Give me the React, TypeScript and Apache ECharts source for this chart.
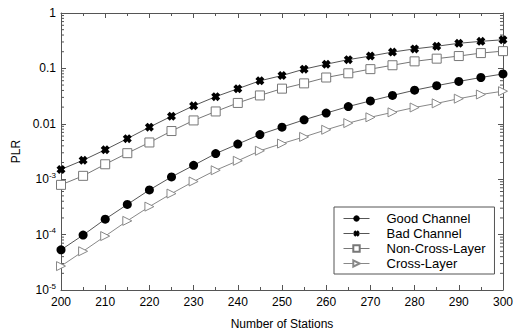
import React, { useEffect, useRef } from "react";
import * as echarts from "echarts";

const stations = [200, 205, 210, 215, 220, 225, 230, 235, 240, 245, 250, 255, 260, 265, 270, 275, 280, 285, 290, 295, 300];
const goodChannel = [5.3e-5, 9.8e-5, 1.9e-4, 3.5e-4, 6.4e-4, 1.1e-3, 1.78e-3, 2.9e-3, 4.3e-3, 6.4e-3, 8.7e-3, 0.0118, 0.0156, 0.0205, 0.0259, 0.0325, 0.0404, 0.0488, 0.0582, 0.0685, 0.0794];
const badChannel = [1.5e-3, 2.2e-3, 3.4e-3, 5.4e-3, 8.7e-3, 0.0137, 0.0211, 0.0309, 0.043, 0.0597, 0.0743, 0.097, 0.119, 0.144, 0.167, 0.197, 0.225, 0.251, 0.284, 0.308, 0.329];
const nonCrossLayer = [7.9e-4, 1.15e-3, 1.86e-3, 2.95e-3, 4.6e-3, 7.4e-3, 0.0115, 0.0167, 0.0238, 0.0325, 0.0431, 0.0537, 0.0685, 0.0816, 0.097, 0.114, 0.134, 0.15, 0.167, 0.189, 0.205];
const crossLayer = [2.7e-5, 5.0e-5, 9.4e-5, 1.77e-4, 3.2e-4, 5.5e-4, 9.1e-4, 1.45e-3, 2.15e-3, 3.26e-3, 4.4e-3, 5.8e-3, 7.8e-3, 0.0103, 0.0131, 0.0161, 0.0197, 0.0234, 0.0284, 0.0338, 0.0388];
const seriesNames = ["Good Channel", "Bad Channel", "Non-Cross-Layer", "Cross-Layer"];
const yDecades = [-5, -4, -3, -2, -1];
const minorMultipliers = [2, 3, 4, 5, 6, 7, 8, 9];

const X_PATH =
  "path://M3,0 L5,2 L7,0 L10,3 L8,5 L10,7 L7,10 L5,8 L3,10 L0,7 L2,5 L0,3 Z";
const TRI_PATH = "path://M0,0 L10,5 L0,10 Z";

const AXIS_COLOR = "#555";
const FONT = "Arial, 'Liberation Sans', sans-serif";

function zip(xs: number[], ys: number[]) {
  return xs.map((x, i) => [x, ys[i]]);
}

function yLabel(v: number) {
  const e = Math.round(Math.log10(v));
  if (e === 0) return "1";
  if (e === -1) return "0.1";
  if (e === -2) return "0.01";
  return "{b|10}{s|" + e + "}";
}

export default function App() {
  const ref = useRef<HTMLDivElement>(null);
  useEffect(() => {
    if (!ref.current) return;
    const chart = echarts.init(ref.current, undefined, { renderer: "svg" });
    const tickY = {
      show: true,
      inside: true,
      length: 5,
      lineStyle: { color: AXIS_COLOR },
    };
    const option: any = {
      animation: false,
      backgroundColor: "#fff",
      textStyle: { fontFamily: FONT },
      grid: { left: 61, right: 11, top: 13, bottom: 38 },
      legend: {
        data: seriesNames,
        orient: "vertical",
        left: 334,
        top: 207,
        padding: [5, 9, 4, 9],
        itemWidth: 26,
        itemHeight: 8,
        itemGap: 2,
        borderColor: "#555",
        borderWidth: 1,
        backgroundColor: "#fff",
        lineStyle: { width: 1 },
        textStyle: { fontSize: 13, color: "#000", fontFamily: FONT, padding: [0, 0, 0, 12] },
      },
      xAxis: [
        {
          type: "value",
          min: 200,
          max: 300,
          interval: 10,
          name: "Number of Stations",
          nameLocation: "middle",
          nameGap: 28,
          nameTextStyle: { fontSize: 12, color: "#000", fontFamily: FONT },
          axisLine: { show: true, lineStyle: { color: AXIS_COLOR } },
          axisTick: { show: true, inside: true, length: 5, lineStyle: { color: AXIS_COLOR } },
          minorTick: { show: true, splitNumber: 2, length: 3, lineStyle: { color: AXIS_COLOR } },
          axisLabel: { fontSize: 12, color: "#000", margin: 6, fontFamily: FONT },
          splitLine: { show: false },
        },
        {
          type: "value",
          position: "top",
          min: 200,
          max: 300,
          interval: 10,
          axisLine: { show: true, onZero: false, lineStyle: { color: AXIS_COLOR } },
          axisTick: { show: true, inside: true, length: 5, lineStyle: { color: AXIS_COLOR } },
          minorTick: { show: true, splitNumber: 2, length: 3, lineStyle: { color: AXIS_COLOR } },
          axisLabel: { show: false },
          splitLine: { show: false },
        },
      ],
      yAxis: [
        {
          type: "log",
          logBase: 10,
          min: 1e-5,
          max: 1,
          name: "PLR",
          nameLocation: "middle",
          nameGap: 34,
          nameRotate: 90,
          nameTextStyle: { fontSize: 12, color: "#000", fontFamily: FONT },
          axisLine: { show: true, lineStyle: { color: AXIS_COLOR } },
          axisTick: tickY,
          axisLabel: {
            fontSize: 12,
            color: "#000",
            margin: 5,
            fontFamily: FONT,
            formatter: yLabel,
            rich: {
              b: { fontSize: 12, lineHeight: 16, color: "#000", fontFamily: FONT, verticalAlign: "middle" },
              s: { fontSize: 8, lineHeight: 8, color: "#000", fontFamily: FONT, verticalAlign: "top" },
            },
          },
          splitLine: { show: false },
        },
        {
          type: "log",
          logBase: 10,
          min: 1e-5,
          max: 1,
          position: "right",
          axisLine: { show: true, onZero: false, lineStyle: { color: AXIS_COLOR } },
          axisTick: tickY,
          axisLabel: { show: false },
          splitLine: { show: false },
        },
      ],
      series: [
        {
          type: "custom",
          name: "minorY",
          silent: true,
          xAxisIndex: 0,
          yAxisIndex: 0,
          data: [[200, 1]],
          clip: false,
          renderItem: (params: any, api: any) => {
            const cs = params.coordSys;
            const children: any[] = [];
            yDecades.forEach((d) => {
              minorMultipliers.forEach((k) => {
                const v = k * Math.pow(10, d);
                const y = api.coord([200, v])[1];
                children.push({
                  type: "line",
                  shape: { x1: cs.x, y1: y, x2: cs.x + 3, y2: y },
                  style: { stroke: AXIS_COLOR, lineWidth: 1 },
                });
                children.push({
                  type: "line",
                  shape: { x1: cs.x + cs.width - 3, y1: y, x2: cs.x + cs.width, y2: y },
                  style: { stroke: AXIS_COLOR, lineWidth: 1 },
                });
              });
            });
            return { type: "group", children };
          },
          z: 1,
        },
        {
          name: "Good Channel",
          type: "line",
          data: zip(stations, goodChannel),
          symbol: "circle",
          symbolSize: 9,
          lineStyle: { color: "#555", width: 1 },
          itemStyle: { color: "#000", borderColor: "#000", borderWidth: 0 },
          z: 3,
        },
        {
          name: "Bad Channel",
          type: "line",
          data: zip(stations, badChannel),
          symbol: X_PATH,
          symbolSize: 9,
          lineStyle: { color: "#555", width: 1 },
          itemStyle: { color: "#000", borderColor: "#000", borderWidth: 0 },
          z: 3,
        },
        {
          name: "Non-Cross-Layer",
          type: "line",
          data: zip(stations, nonCrossLayer),
          symbol: "rect",
          symbolSize: 9,
          lineStyle: { color: "#777", width: 1 },
          itemStyle: { color: "#fff", borderColor: "#777", borderWidth: 1 },
          z: 3,
        },
        {
          name: "Cross-Layer",
          type: "line",
          data: zip(stations, crossLayer),
          symbol: TRI_PATH,
          symbolSize: [9, 9],
          lineStyle: { color: "#888", width: 1 },
          itemStyle: { color: "#fff", borderColor: "#888", borderWidth: 1 },
          z: 3,
        },
      ],
    };
    chart.setOption(option);
    return () => chart.dispose();
  }, []);
  return <div ref={ref} style={{ width: 516, height: 335, position: "absolute", left: 0, top: 0 }} />;
}
